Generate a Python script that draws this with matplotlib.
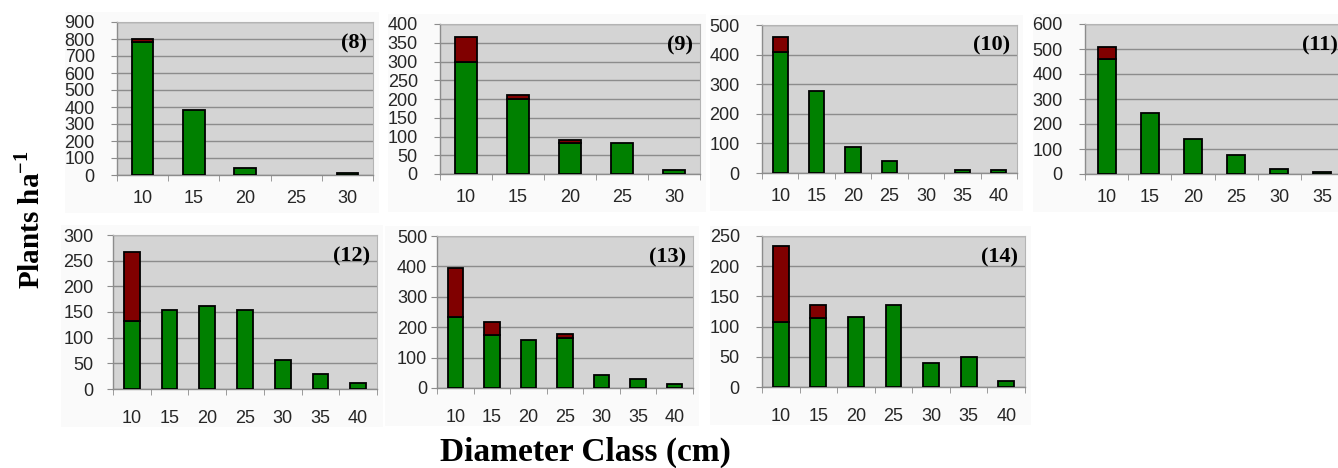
import numpy as np
import matplotlib
matplotlib.use('Agg')
import matplotlib.pyplot as plt
from matplotlib.patches import Rectangle

plt.rcParams['font.family'] = ['Liberation Sans', 'DejaVu Sans']
plt.rcParams['mathtext.fontset'] = 'custom'
plt.rcParams['mathtext.rm'] = 'Liberation Serif:bold'
plt.rcParams['mathtext.bf'] = 'Liberation Serif:bold'

# Данные: классы диаметра и число растений (зелёная и красная части столбцов)
classes_5 = [10, 15, 20, 25, 30]
classes_6 = [10, 15, 20, 25, 30, 35]
classes_7 = [10, 15, 20, 25, 30, 35, 40]

green_8 = [780, 385, 40, 0, 12]
red_8 = [20, 0, 0, 0, 0]

green_9 = [300, 200, 82, 83, 10]
red_9 = [65, 10, 10, 0, 0]

green_10 = [410, 276, 88, 39, 0, 10, 10]
red_10 = [50, 0, 0, 0, 0, 0, 0]

green_11 = [460, 245, 140, 76, 19, 8]
red_11 = [48, 0, 0, 0, 0, 0]

green_12 = [132, 153, 162, 153, 57, 30, 11]
red_12 = [134, 0, 0, 0, 0, 0, 0]

green_13 = [235, 175, 159, 166, 42, 30, 13]
red_13 = [160, 43, 0, 12, 0, 0, 0]

green_14 = [107, 115, 116, 136, 39, 49, 10]
red_14 = [126, 20, 0, 0, 0, 0, 0]

panel_names = ['(8)', '(9)', '(10)', '(11)', '(12)', '(13)', '(14)']
y_max = [900, 400, 500, 600, 300, 500, 250]
y_step = [100, 50, 100, 100, 50, 100, 50]

W, H = 1338, 468
fig = plt.figure(figsize=(W / 100, H / 100), dpi=100)

# Положение областей построения в пикселях: x0, x1, y_top, y_bottom
boxes = [
    (117, 373, 22, 175),
    (440, 700, 24, 174),
    (762, 1017, 25, 173),
    (1085, 1344, 24, 174),
    (113, 377, 235, 389),
    (437, 693, 236, 388),
    (762, 1025, 236, 387),
]
ylab_pad = [12, 12, 12, 12, 10, 3, 12]
xlab_pad = [11, 11, 11, 11, 15, 15, 15]

panels = [
    (classes_5, green_8, red_8),
    (classes_5, green_9, red_9),
    (classes_7, green_10, red_10),
    (classes_6, green_11, red_11),
    (classes_7, green_12, red_12),
    (classes_7, green_13, red_13),
    (classes_7, green_14, red_14),
]

for i, (cls, green, red) in enumerate(panels):
    x0, x1, yt, yb = boxes[i]
    # едва заметная светлая область диаграммы
    fig.patches.append(Rectangle(((x0 - 52) / W, 1 - (yb + 38) / H),
                                 (x1 - x0 + 58) / W, (yb - yt + 48) / H,
                                 transform=fig.transFigure, facecolor='#fafafa',
                                 edgecolor='none', zorder=-5))
    ax = fig.add_axes([x0 / W, 1 - yb / H, (x1 - x0) / W, (yb - yt) / H])
    ax.set_facecolor('#d4d4d4')
    pos = np.arange(len(cls))
    gi = [k for k in range(len(green)) if green[k] > 0]
    ax.bar(pos[gi], [green[k] for k in gi], width=0.42, color='#008000',
           edgecolor='black', linewidth=1.3, zorder=3)
    ri = [k for k in range(len(red)) if red[k] > 0]
    ax.bar(pos[ri], [red[k] for k in ri], bottom=[green[k] for k in ri],
           width=0.42, color='#800000', edgecolor='black', linewidth=1.3, zorder=3)

    ax.set_xlim(-0.5, len(cls) - 0.5)
    ax.set_ylim(0, y_max[i])
    ax.set_yticks(np.arange(0, y_max[i] + 1, y_step[i]))
    ax.yaxis.grid(True, color='#8c8c8c', linewidth=1.0)
    ax.set_axisbelow(True)
    ax.set_xticks(pos)
    ax.set_xticklabels([str(c) for c in cls])
    ax.set_xticks(np.arange(-0.5, len(cls), 1.0), minor=True)
    ax.tick_params(axis='x', which='major', length=0, pad=xlab_pad[i],
                   labelsize=13, labelcolor='#262626')
    ax.tick_params(axis='x', which='minor', length=4, color='#8c8c8c', direction='out')
    ax.tick_params(axis='y', length=4, color='#8c8c8c', pad=ylab_pad[i],
                   labelsize=13, labelcolor='#262626')
    for s in ['left', 'bottom']:
        ax.spines[s].set_color('#8c8c8c')
        ax.spines[s].set_linewidth(1.0)
    for s in ['top', 'right']:
        ax.spines[s].set_color('#b4b4b4')
        ax.spines[s].set_linewidth(0.8)
    ax.text(0.975, 0.86, panel_names[i], transform=ax.transAxes, ha='right',
            va='center', family='Liberation Serif', fontweight='bold', fontsize=16)

fig.text(30 / W, 1 - 220 / H, r'Plants ha$^{\mathbf{-1}}$', rotation=90,
         ha='center', va='center', family='Liberation Serif', fontweight='bold',
         fontsize=21)
fig.text(585 / W, 1 - 452 / H, 'Diameter Class (cm)', ha='center', va='center',
         family='Liberation Serif', fontweight='bold', fontsize=24)

fig.savefig('out.png', dpi=100)
